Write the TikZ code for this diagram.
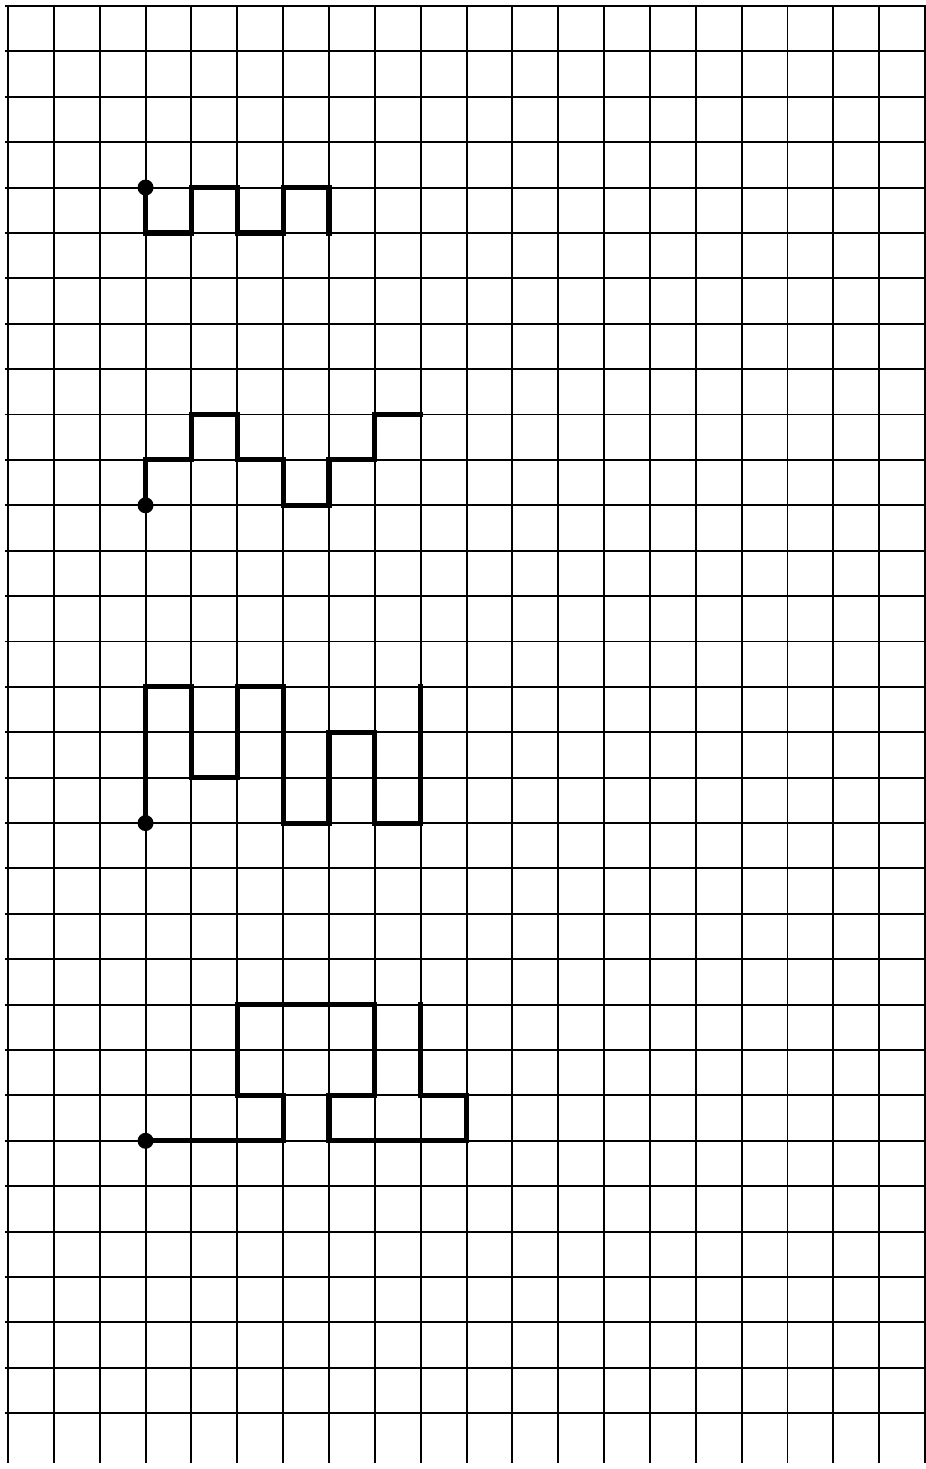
\documentclass[tikz,border=0pt]{standalone}
\begin{document}
\begin{tikzpicture}[x=0.917cm, y=-0.9078cm,
  gridline/.style={line width=1.1pt, black},
  trail/.style={line width=2.9pt, black, line join=miter, line cap=rect},
  startdot/.style={circle, fill=black, inner sep=0pt, minimum size=0.32cm}]
\useasboundingbox[fill=white] (-0.1745,-0.132) rectangle (20.02,32.23);
% grid
\foreach \i in {0,...,20} \draw[gridline] (\i,-0.02) -- (\i,32.1);
\foreach \j in {0,...,31} \draw[gridline] (-0.07,\j) -- (20.02,\j);
% path 1
\draw[trail] (3,4) -- (3,5) -- (4,5) -- (4,4) -- (5,4) -- (5,5) -- (6,5) -- (6,4) -- (7,4) -- (7,5);
\node[startdot] (s1) at (3,4) {};
% path 2
\draw[trail] (3,11) -- (3,10) -- (4,10) -- (4,9) -- (5,9) -- (5,10) -- (6,10) -- (6,11) -- (7,11) -- (7,10) -- (8,10) -- (8,9) -- (9,9);
\node[startdot] (s2) at (3,11) {};
% path 3
\draw[trail] (3,18) -- (3,15) -- (4,15) -- (4,17) -- (5,17) -- (5,15) -- (6,15) -- (6,18) -- (7,18) -- (7,16) -- (8,16) -- (8,18) -- (9,18) -- (9,15);
\node[startdot] (s3) at (3,18) {};
% path 4
\draw[trail] (3,25) -- (6,25) -- (6,24) -- (5,24) -- (5,22) -- (8,22) -- (8,24) -- (7,24) -- (7,25) -- (10,25) -- (10,24) -- (9,24) -- (9,22);
\node[startdot] (s4) at (3,25) {};
\end{tikzpicture}
\end{document}
